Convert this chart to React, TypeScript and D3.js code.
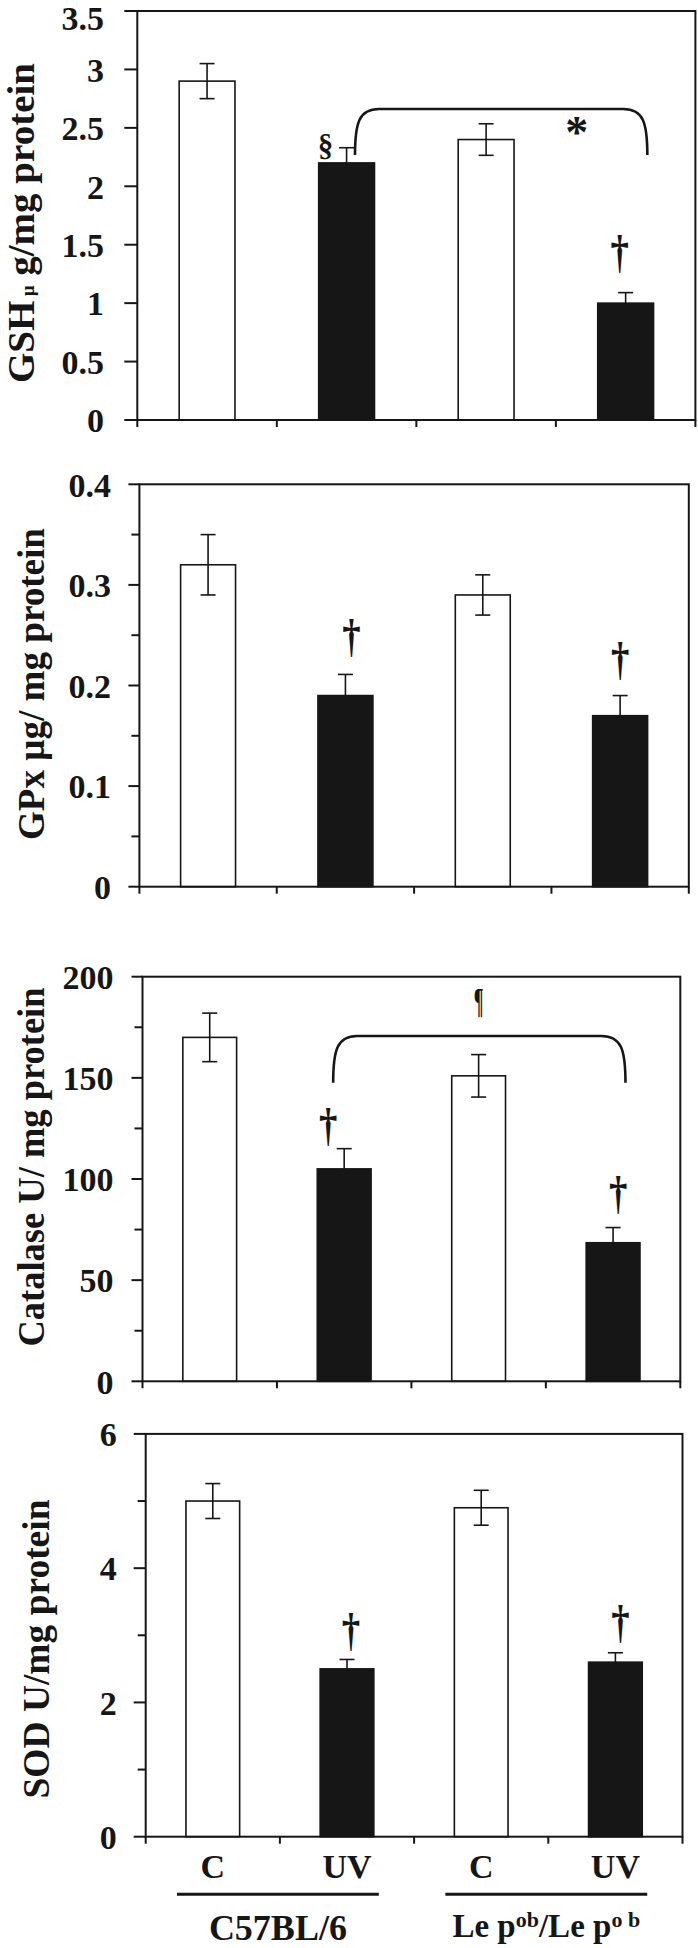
import React from "react";
import * as d3 from "d3";

// bar groups, left to right
const treatments = ["C", "UV", "C", "UV"];
const strains = ["C57BL/6", "Lep/Lep"];
const barFill = ["#fff", "#161616", "#fff", "#161616"];

// GSH
const gshMean = [2.9, 2.2, 2.4, 1.0];
const gshErr = [0.15, 0.13, 0.135, 0.09];
const gshTicks = [0, 0.5, 1, 1.5, 2, 2.5, 3, 3.5];

// GPx
const gpxMean = [0.32, 0.19, 0.29, 0.17];
const gpxErr = [0.03, 0.021, 0.02, 0.02];
const gpxTicks = [0, 0.1, 0.2, 0.3, 0.4];
const gpxMinor = [0.05, 0.15, 0.25, 0.35];

// Catalase
const catMean = [170, 105, 151, 68.5];
const catErr = [12, 10, 10.5, 7.5];
const catTicks = [0, 50, 100, 150, 200];
const catMinor = [25, 75, 125, 175];

// SOD
const sodMean = [5.0, 2.5, 4.9, 2.6];
const sodErr = [0.26, 0.14, 0.26, 0.14];
const sodTicks = [0, 2, 4, 6];
const sodMinor = [1, 3, 5];

const FONT = "'Liberation Serif', 'Times New Roman', serif";
const INK = "#161616";

type Mark = { bar: number; sym: string; dx: number; gap: number; size: number; sx?: number };
type Bracket = { from: number; to: number; lo: number; hi: number; dx0: number; dx1: number };
type Note = { bar: number; dx: number; value: number; sym: string; size: number; sx?: number; lift: number };

type PanelCfg = {
  mean: number[];
  err: number[];
  ticks: number[];
  minor: number[];
  left: number;
  right: number;
  top: number;
  bottom: number;
  tickLen: number;
  labelX: number;
  titleX: number;
  titleY: number;
  titleLen: number;
  title: React.ReactNode;
  marks: Mark[];
  bracket?: Bracket;
  notes?: Note[];
};

const descent: Record<string, number> = { "†": 0.15, "§": 0.14 };

function Panel({ cfg }: { cfg: PanelCfg }) {
  const { mean, err, ticks, minor, left, right, top, bottom } = cfg;
  const y = d3.scaleLinear().domain([0, d3.max(ticks)!]).range([bottom, top]);
  const x = d3
    .scaleBand<number>()
    .domain(d3.range(mean.length))
    .range([left, right])
    .paddingInner(0.6)
    .paddingOuter(0.3);
  const edge = d3.scaleLinear().domain([0, mean.length]).range([left, right]);
  const bw = x.bandwidth();
  const cx = (i: number) => x(i)! + bw / 2;
  const cap = 7.5;

  let bracketPath = "";
  if (cfg.bracket) {
    const b = cfg.bracket;
    const x0 = cx(b.from) + b.dx0;
    const x1 = cx(b.to) + b.dx1;
    const yl = y(b.lo);
    const yh = y(b.hi);
    const h = yl - yh;
    const p = d3.path();
    p.moveTo(x0, yl);
    p.bezierCurveTo(x0, yh + h * 0.3, x0 + 4, yh, x0 + 24, yh);
    p.lineTo(x1 - 24, yh);
    p.bezierCurveTo(x1 - 4, yh, x1, yh + h * 0.3, x1, yl);
    bracketPath = p.toString();
  }

  return (
    <g>
      {/* bars */}
      {mean.map((v, i) => (
        <rect
          key={i}
          x={x(i)}
          y={y(v)}
          width={bw}
          height={y(0) - y(v)}
          fill={barFill[i]}
          stroke={INK}
          strokeWidth={1.6}
        />
      ))}
      {/* error bars */}
      {mean.map((v, i) => {
        const white = barFill[i] === "#fff";
        const lo = white ? v - err[i] : v;
        return (
          <g key={i} stroke={INK} strokeWidth={1.6}>
            <line x1={cx(i)} x2={cx(i)} y1={y(lo)} y2={y(v + err[i])} />
            <line x1={cx(i) - cap} x2={cx(i) + cap} y1={y(v + err[i])} y2={y(v + err[i])} />
            {white && <line x1={cx(i) - cap} x2={cx(i) + cap} y1={y(lo)} y2={y(lo)} />}
          </g>
        );
      })}
      {/* frame */}
      <rect x={left} y={top} width={right - left} height={bottom - top} fill="none" stroke={INK} strokeWidth={2} />
      {ticks.map((t) => (
        <g key={t}>
          <line x1={left - cfg.tickLen} x2={left} y1={y(t)} y2={y(t)} stroke={INK} strokeWidth={2} />
          <text
            x={cfg.labelX}
            y={Math.max(y(t), 18)}
            dy="0.36em"
            textAnchor="end"
            fontSize={34}
            fontWeight="bold"
            fontFamily={FONT}
            fill={INK}
          >
            {String(t)}
          </text>
        </g>
      ))}
      {minor.map((t) => (
        <line key={t} x1={left - 8} x2={left} y1={y(t)} y2={y(t)} stroke={INK} strokeWidth={2} />
      ))}
      {d3.range(mean.length + 1).map((k) => (
        <line key={k} x1={edge(k)} x2={edge(k)} y1={bottom} y2={bottom + 7} stroke={INK} strokeWidth={2} />
      ))}
      {/* y title */}
      <text
        transform={`translate(${cfg.titleX},${cfg.titleY}) rotate(-90)`}
        textAnchor="middle"
        fontSize={38}
        fontWeight="bold"
        fontFamily={FONT}
        fill={INK}
        textLength={cfg.titleLen}
        lengthAdjust="spacingAndGlyphs"
      >
        {cfg.title}
      </text>
      {/* significance marks */}
      {cfg.marks.map((m, k) => {
        const bot = y(mean[m.bar] + err[m.bar]) - m.gap;
        const base = bot - (descent[m.sym] ?? 0) * m.size;
        const mx = cx(m.bar) + m.dx;
        return (
          <text
            key={k}
            transform={`translate(${mx},${base}) scale(${m.sx ?? 1},1)`}
            textAnchor="middle"
            fontSize={m.size}
            fontWeight="bold"
            fontFamily={FONT}
            fill={INK}
          >
            {m.sym}
          </text>
        );
      })}
      {bracketPath && <path d={bracketPath} fill="none" stroke={INK} strokeWidth={2.6} />}
      {(cfg.notes ?? []).map((n, k) => (
        <text
          key={k}
          transform={`translate(${cx(n.bar) + n.dx},${y(n.value) + n.lift * n.size}) scale(${n.sx ?? 1},1)`}
          textAnchor="middle"
          fontSize={n.size}
          fontWeight="bold"
          fontFamily={FONT}
          fill={INK}
        >
          {n.sym}
        </text>
      ))}
    </g>
  );
}

const panels: PanelCfg[] = [
  {
    mean: gshMean,
    err: gshErr,
    ticks: gshTicks,
    minor: [],
    left: 137.3,
    right: 695.4,
    top: 11,
    bottom: 420,
    tickLen: 13,
    labelX: 104,
    titleX: 34,
    titleY: 223,
    titleLen: 320,
    title: (
      <>
        GSH<tspan fontSize={18}> μ</tspan> g/mg protein
      </>
    ),
    marks: [
      { bar: 3, sym: "†", dx: -6, gap: 19, size: 46, sx: 0.8 },
      { bar: 1, sym: "§", dx: -21, gap: -12.6, size: 31 },
    ],
    bracket: { from: 1, to: 3, lo: 2.268, hi: 2.661, dx0: 8.4, dx1: 21.7 },
    notes: [{ bar: 3, dx: -49, value: 2.516, sym: "*", size: 46, lift: 0.485 }],
  },
  {
    mean: gpxMean,
    err: gpxErr,
    ticks: gpxTicks,
    minor: gpxMinor,
    left: 139.4,
    right: 688.8,
    top: 484.3,
    bottom: 886.7,
    tickLen: 11,
    labelX: 111,
    titleX: 44,
    titleY: 684,
    titleLen: 312,
    title: "GPx μg/ mg protein",
    marks: [
      { bar: 1, sym: "†", dx: 6, gap: 17, size: 46, sx: 0.8 },
      { bar: 3, sym: "†", dx: 0, gap: 15, size: 46, sx: 0.8 },
    ],
  },
  {
    mean: catMean,
    err: catErr,
    ticks: catTicks,
    minor: catMinor,
    left: 142.5,
    right: 680.3,
    top: 976.7,
    bottom: 1381.3,
    tickLen: 11,
    labelX: 113.5,
    titleX: 44,
    titleY: 1167,
    titleLen: 359,
    title: "Catalase U/ mg protein",
    marks: [
      { bar: 1, sym: "†", dx: -16, gap: 2, size: 46, sx: 0.8 },
      { bar: 3, sym: "†", dx: 5, gap: 13, size: 46, sx: 0.8 },
    ],
    bracket: { from: 1, to: 3, lo: 147.6, hi: 170.7, dx0: -11, dx1: 12.4 },
    notes: [{ bar: 2, dx: 0, value: 178.6, sym: "¶", size: 36, sx: 0.5, lift: -0.2 }],
  },
  {
    mean: sodMean,
    err: sodErr,
    ticks: sodTicks,
    minor: sodMinor,
    left: 145.7,
    right: 682.5,
    top: 1433.9,
    bottom: 1836.7,
    tickLen: 12,
    labelX: 116.7,
    titleX: 49,
    titleY: 1649,
    titleLen: 299,
    title: "SOD U/mg protein",
    marks: [
      { bar: 1, sym: "†", dx: 4, gap: 7.6, size: 46, sx: 0.8 },
      { bar: 3, sym: "†", dx: 5, gap: 9, size: 46, sx: 0.8 },
    ],
  },
];

function XLabels({ cfg }: { cfg: PanelCfg }) {
  const x = d3
    .scaleBand<number>()
    .domain(d3.range(treatments.length))
    .range([cfg.left, cfg.right])
    .paddingInner(0.6)
    .paddingOuter(0.3);
  const bw = x.bandwidth();
  const groups = [
    [0, 1],
    [2, 3],
  ];
  return (
    <g fontFamily={FONT} fontWeight="bold" fill={INK}>
      {treatments.map((t, i) => (
        <text key={i} x={x(i)! + bw / 2} y={1878} textAnchor="middle" fontSize={34}>
          {t}
        </text>
      ))}
      {groups.map(([a, b], g) => {
        const x0 = x(a)! - 9;
        const x1 = x(b)! + bw + 5;
        const mid = (x0 + x1) / 2;
        return (
          <g key={g}>
            <line x1={x0} x2={x1} y1={1894.3} y2={1894.3} stroke={INK} strokeWidth={3} />
            {g === 0 ? (
              <text x={mid} y={1940} textAnchor="middle" fontSize={36}>
                {strains[0]}
              </text>
            ) : (
              <text x={mid} y={1937} textAnchor="middle" fontSize={33}>
                Le p
                <tspan fontSize={22} dy={-10}>
                  ob
                </tspan>
                <tspan dy={10}>/Le p</tspan>
                <tspan fontSize={22} dy={-10}>
                  o b
                </tspan>
              </text>
            )}
          </g>
        );
      })}
    </g>
  );
}

export default function App() {
  return (
    <svg
      width={698}
      height={1948}
      style={{ position: "absolute", left: 0, top: 0, background: "#fff", display: "block" }}
    >
      <rect width={698} height={1948} fill="#fff" />
      {panels.map((p, i) => (
        <Panel key={i} cfg={p} />
      ))}
      <XLabels cfg={panels[3]} />
    </svg>
  );
}
